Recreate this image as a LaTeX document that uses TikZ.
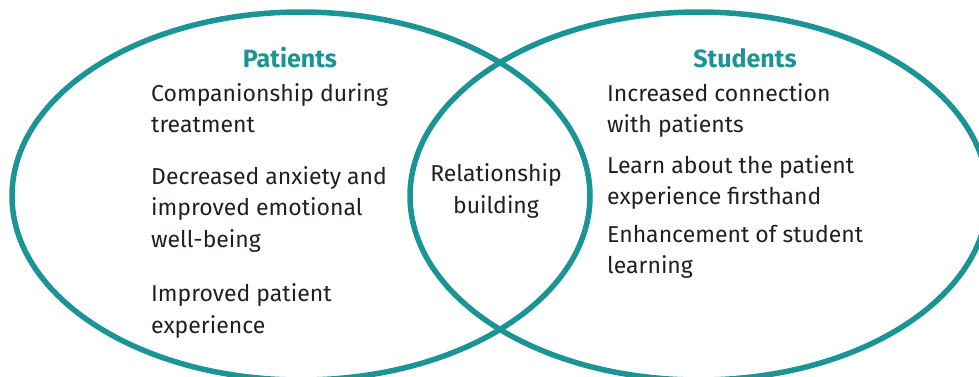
\documentclass[tikz,border=0pt]{standalone}
\usepackage{fontspec}
\setmainfont{Fira Sans}
\usetikzlibrary{shapes.geometric}
\definecolor{vennteal}{HTML}{1A9494}
\definecolor{venntext}{HTML}{231F20}
\tikzstyle{venn} = [draw=vennteal, line width=5.5pt, ellipse, minimum width=578pt, minimum height=368pt, inner sep=0pt]
\tikzstyle{heading} = [text=vennteal, anchor=base, inner sep=0pt, font=\fontsize{25}{31.5}\selectfont\bfseries]
% base of a multi-line node is the baseline of its last line
\tikzstyle{item} = [text=venntext, align=left, anchor=base west, inner sep=0pt, font=\fontsize{23}{31.5}\selectfont]

\begin{document}
\begin{tikzpicture}[x=1pt, y=-1pt]
		\useasboundingbox (0,0) rectangle (979,376);
		% the two circles of the diagram
		\node [venn] (patients) at (301,196) {};
		\node [venn] (students) at (699,196) {};
		% left side
		\node [heading] (patientshead) at (290,67) {Patients};
		\node [item] (companion) at (151,132.5) {Companionship during\\treatment};
		\node [item] (anxiety) at (151,247) {Decreased anxiety and\\improved emotional\\well-being};
		\node [item] (experience) at (151,333) {Improved patient\\experience};
		% overlap
		\node [item, align=center, anchor=base] (relation) at (496,213) {Relationship\\building};
		% right side
		\node [heading] (studentshead) at (745,67) {Students};
		\node [item] (connection) at (607,132.5) {Increased connection\\with patients};
		\node [item] (learn) at (607,204.5) {Learn about the patient\\experience firsthand};
		\node [item] (enhance) at (607,273.5) {Enhancement of student\\learning};
	\end{tikzpicture}
\end{document}
